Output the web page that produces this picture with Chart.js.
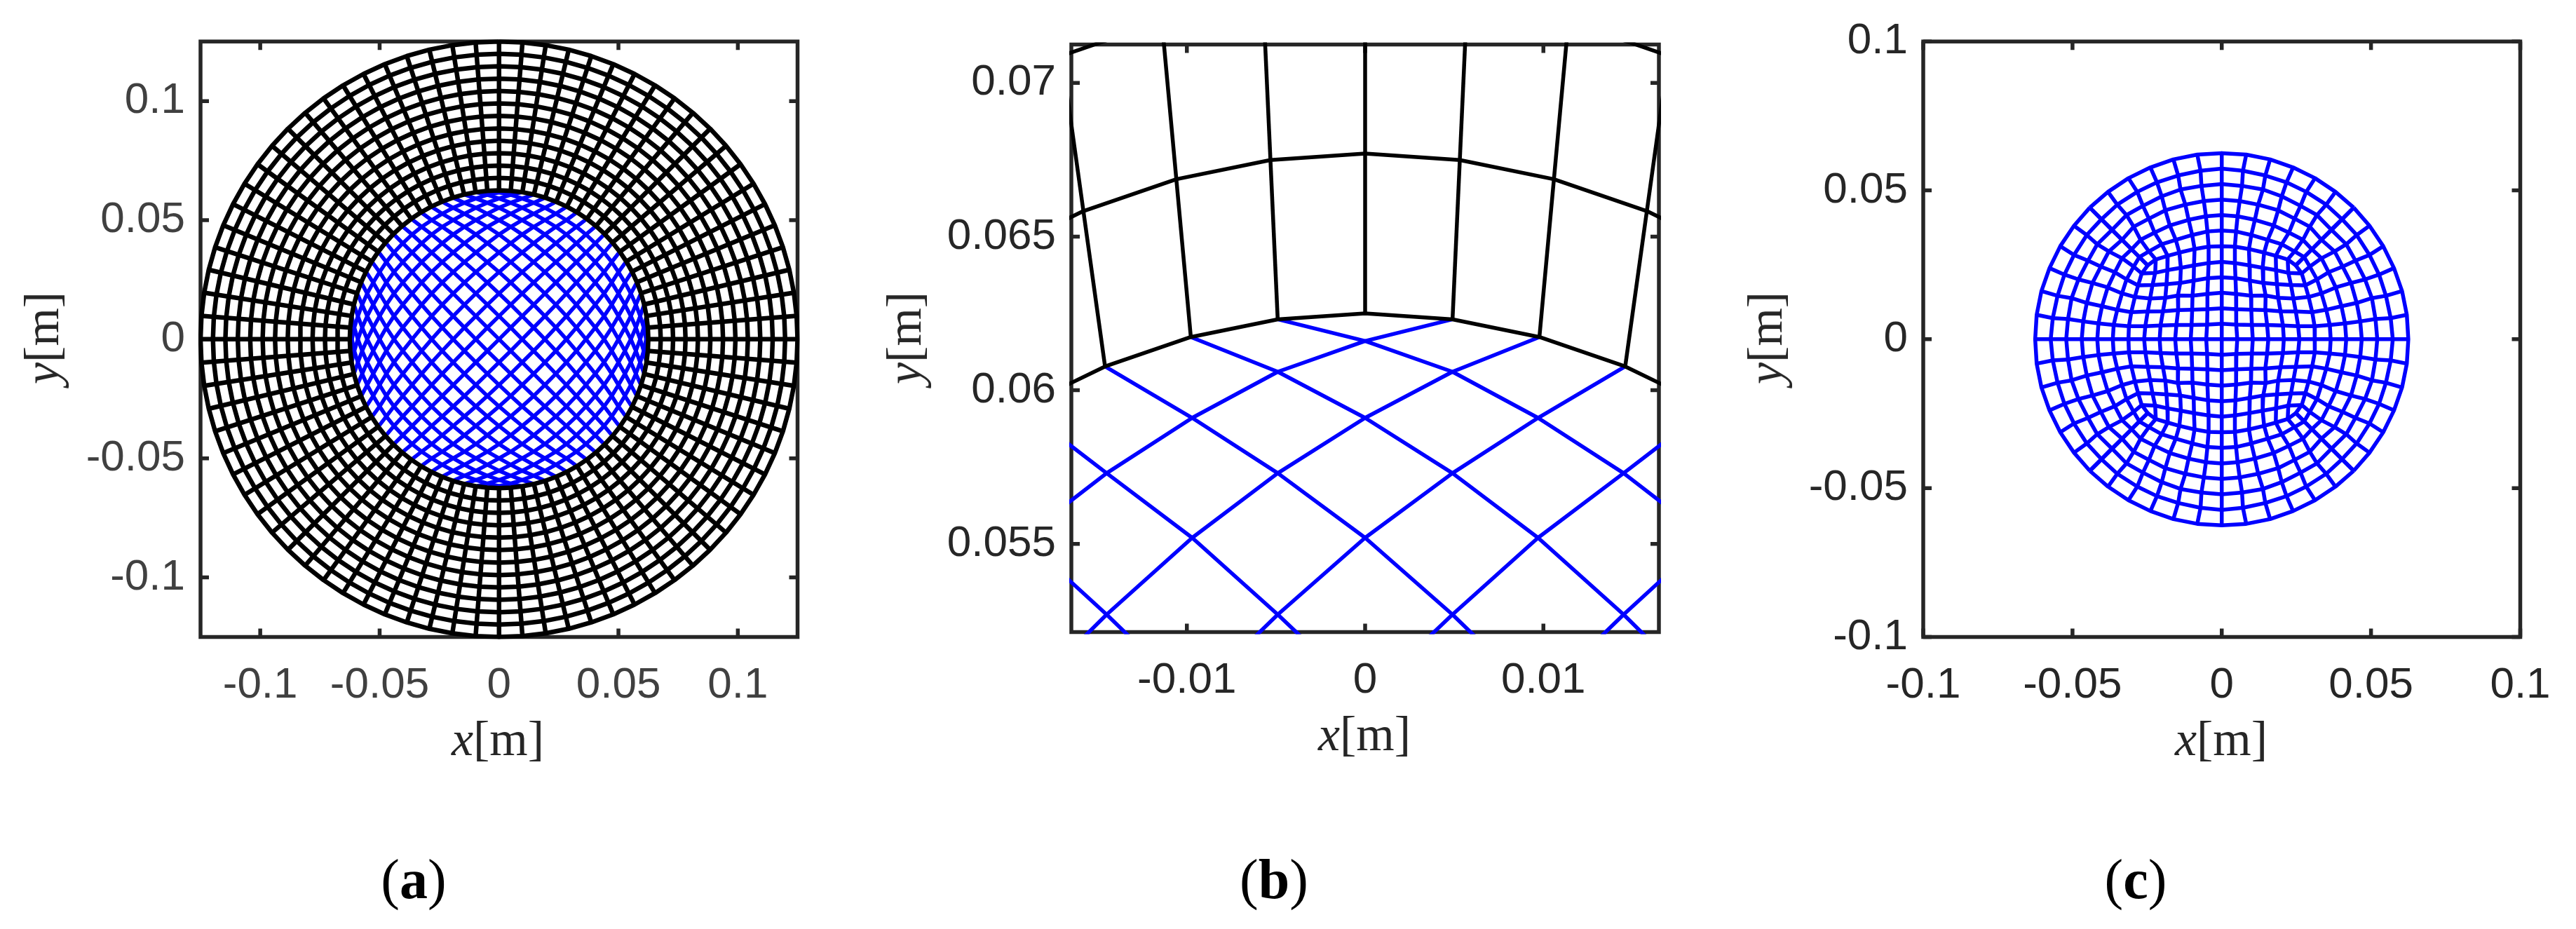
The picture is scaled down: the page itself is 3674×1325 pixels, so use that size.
<!doctype html>
<html><head><meta charset="utf-8">
<title>Mesh panels</title>
<script src="https://cdn.jsdelivr.net/npm/chart.js"></script>
<style>
  html,body{margin:0;padding:0;background:#fff;width:3674px;height:1325px;overflow:hidden}
  canvas{position:absolute;top:0}
  .axlabel{position:absolute;font:70px "Liberation Serif",serif;color:#262626;white-space:nowrap;transform:translate(-50%,-50%)}
  .axlabel.rot{transform:translate(-50%,-50%) rotate(-90deg)}
  .caption{position:absolute;font:80px "Liberation Serif",serif;color:#000;white-space:nowrap;transform:translate(-50%,-50%)}
</style>
</head><body>
<canvas id="chartA" width="1225" height="1150" style="left:0"></canvas>
<canvas id="chartB" width="1225" height="1150" style="left:1225px"></canvas>
<canvas id="chartC" width="1224" height="1150" style="left:2450px"></canvas>

<span class="axlabel" style="left:710px;top:1054px"><i>x</i>[m]</span>
<span class="axlabel rot" style="left:60px;top:482px"><i>y</i>[m]</span>
<span class="axlabel" style="left:1946px;top:1047px"><i>x</i>[m]</span>
<span class="axlabel rot" style="left:1290px;top:482px"><i>y</i>[m]</span>
<span class="axlabel" style="left:3168px;top:1054px"><i>x</i>[m]</span>
<span class="axlabel rot" style="left:2518px;top:482px"><i>y</i>[m]</span>
<span class="caption" style="left:590px;top:1254px">(<b>a</b>)</span>
<span class="caption" style="left:1817px;top:1254px">(<b>b</b>)</span>
<span class="caption" style="left:3046px;top:1254px">(<b>c</b>)</span>

<script>
// tick positions and labels
const ticksA = [-0.1, -0.05, 0, 0.05, 0.1];
const labelsA = ['-0.1', '-0.05', '0', '0.05', '0.1'];
const ticksBx = [-0.01, 0, 0.01];
const labelsBx = ['-0.01', '0', '0.01'];
const ticksBy = [0.055, 0.06, 0.065, 0.07];
const labelsBy = ['0.055', '0.06', '0.065', '0.07'];

// black mesh: ring radii (mm) and spoke angles of one quadrant (deg)
const ringRadii = [62.5, 67.7, 72.9, 78.1, 83.3, 88.5, 93.8, 99.0, 104.2, 109.4, 114.6, 119.8, 125];
const spokeAngles = [0, 4.5, 9, 13.5, 18, 22.5, 27, 31.5, 36, 40.5, 45, 49.5, 54, 58.5, 63, 67.5, 72, 76.5, 81, 85.5, 90];

// blue crossing mesh: node coordinate along either axis, from centre to rim (mm)
const crossNodes = [0, 4.9, 9.7, 14.5, 19.2, 23.8, 28.2, 32.4, 36.4, 40.3, 44.0, 47.2, 50.0, 52.7, 55.2, 57.3, 59.1, 60.6, 61.6, 62.3, 62.5];

// panel c: x of the inner block nodes in one quadrant, rows from the axis up (mm)
const blockX = [
  [0, 5.2, 10.4, 15.6, 20.8, 26.0, 31.25],
  [0, 4.9, 10.1, 15.2, 20.5, 25.6, 31.1],
  [0, 4.8, 9.9, 14.6, 19.7, 24.8, 30.3],
  [0, 4.8, 9.8, 14.7, 18.9, 24.0, 29.1],
  [0, 4.6, 9.4, 13.9, 18.5, 23.2, 28.0],
  [0, 4.4, 9.3, 13.7, 18.2, 22.3, 26.8],
  [0, 4.4, 9.1, 14.2, 18.1, 22.1, 24.8]
];
// panel c: nodes of the rings outside the block, top sector, vertical axis to diagonal (mm)
const sectorX = [
  [0, 4.8, 9.9, 15.4, 20.1, 24.4, 27.6],
  [0, 5.3, 11.1, 17.4, 22.5, 27.2, 30.2],
  [0, 6.0, 12.2, 18.9, 24.4, 29.5, 33.4],
  [0, 6.8, 13.8, 20.1, 26.4, 31.9, 36.7],
  [0, 7.1, 14.6, 21.7, 28.3, 35.0, 40.3],
  [0, 8.2, 16.2, 23.9, 31.25, 38.1, 44.2]
];
const sectorY = [
  [36.5, 36.2, 35.0, 33.4, 31.9, 29.5, 27.6],
  [41.7, 41.3, 40.1, 38.2, 35.8, 33.4, 30.2],
  [46.9, 46.4, 45.2, 43.3, 40.5, 37.8, 33.4],
  [52.1, 51.5, 50.3, 48.0, 44.8, 41.7, 36.8],
  [57.3, 56.6, 55.0, 52.7, 49.5, 45.2, 40.3],
  [62.5, 62.0, 60.4, 57.7, 54.1, 49.5, 44.2]
];

const BLACK = '#000000', BLUE = '#0000ff', FRAME = '#262626';

function polar(r, deg) {
  const t = deg * Math.PI / 180;
  return { x: r * Math.sin(t) / 1000, y: r * Math.cos(t) / 1000 };
}

function blackLines() {
  const lines = [];
  const angles = [];
  for (let q = 0; q < 4; q++) spokeAngles.slice(0, 20).forEach(a => angles.push(a + 90 * q));
  ringRadii.forEach(r => {
    const pts = angles.map(a => polar(r, a));
    pts.push(pts[0]);
    lines.push(pts);
  });
  angles.forEach(a => lines.push([polar(ringRadii[0], a), polar(ringRadii[ringRadii.length - 1], a)]));
  return lines;
}

// a blue node; the ones at the rim sit on the nodes of the innermost black ring
function crossNode(a, b) {
  const ia = Math.abs(a), ib = Math.abs(b);
  if (ia + ib === 20) {
    const p = polar(ringRadii[0], spokeAngles[ia]);
    return { x: (a < 0 ? -1 : 1) * p.x, y: (b < 0 ? -1 : 1) * p.y };
  }
  return { x: Math.sign(a) * crossNodes[ia] / 1000, y: Math.sign(b) * crossNodes[ib] / 1000 };
}

// the two crossing families, rim to rim; the rim itself is left to the black ring
function blueCrossLines() {
  const lines = [];
  for (let c = -18; c <= 18; c += 2) {
    const one = [], two = [];
    for (let d = -20; d <= 20; d += 2) {
      const a = (c + d) / 2, b = (c - d) / 2;
      one.push(crossNode(a, b));
      two.push(crossNode(a, -b));
    }
    lines.push(one, two);
  }
  return lines;
}

function blockNode(i, j) {
  const ai = Math.abs(i), aj = Math.abs(j);
  return { x: Math.sign(i) * blockX[aj][ai] / 1000, y: Math.sign(j) * blockX[ai][aj] / 1000 };
}

function sectorNode(k, i, sy) {
  return { x: Math.sign(i) * sectorX[k][Math.abs(i)] / 1000, y: sy * sectorY[k][Math.abs(i)] / 1000 };
}

function columnLine(i) {
  const pts = [];
  for (let k = 5; k >= 0; k--) pts.push(sectorNode(k, i, 1));
  for (let j = 6; j >= -6; j--) pts.push(blockNode(i, j));
  for (let k = 0; k <= 5; k++) pts.push(sectorNode(k, i, -1));
  return pts;
}

function swapLine(pts) {
  return pts.map(p => ({ x: p.y, y: p.x }));
}

function blueBlockLines() {
  const lines = [];
  for (let i = -6; i <= 6; i++) {
    const col = columnLine(i);
    lines.push(col, swapLine(col));
  }
  for (let k = 0; k < 6; k++) {
    [1, -1].forEach(sy => {
      const arc = [];
      for (let i = -6; i <= 6; i++) arc.push(sectorNode(k, i, sy));
      lines.push(arc, swapLine(arc));
    });
  }
  return lines;
}

function lineSets(lines, color, width, order) {
  return lines.map(pts => ({
    data: pts, showLine: true, pointRadius: 0, tension: 0,
    borderColor: color, borderWidth: width, order: order, clip: 3,
    borderJoinStyle: 'round', borderCapStyle: 'butt'
  }));
}

// MATLAB style box with inward ticks on all four sides
const boxPlugin = {
  id: 'box',
  beforeDatasetsDraw(chart) {
    const { ctx, chartArea: a, scales } = chart;
    const len = 12;
    ctx.save();
    ctx.strokeStyle = FRAME;
    ctx.lineWidth = 5.5;
    ctx.strokeRect(a.left, a.top, a.right - a.left, a.bottom - a.top);
    ctx.beginPath();
    scales.x.ticks.forEach(t => {
      const px = scales.x.getPixelForValue(t.value);
      ctx.moveTo(px, a.bottom); ctx.lineTo(px, a.bottom - len);
      ctx.moveTo(px, a.top); ctx.lineTo(px, a.top + len);
    });
    scales.y.ticks.forEach(t => {
      const py = scales.y.getPixelForValue(t.value);
      ctx.moveTo(a.left, py); ctx.lineTo(a.left + len, py);
      ctx.moveTo(a.right, py); ctx.lineTo(a.right - len, py);
    });
    ctx.stroke();
    ctx.restore();
  }
};

function makeAxis(min, max, ticks, labels, color, pad, fit) {
  return {
    type: 'linear', min, max,
    grid: { display: false, drawTicks: false },
    border: { display: false },
    afterBuildTicks(s) { s.ticks = ticks.map(v => ({ value: v })); },
    afterFit: fit,
    ticks: {
      autoSkip: false, maxRotation: 0, minRotation: 0, padding: pad, color,
      font: { family: '"Liberation Sans", Arial, sans-serif', size: 62 },
      callback(v, i) { return labels[i]; }
    }
  };
}

function makeChart(id, p) {
  const el = document.getElementById(id);
  new Chart(el, {
    type: 'scatter',
    data: { datasets: p.datasets },
    plugins: [boxPlugin],
    options: {
      responsive: false, animation: false, devicePixelRatio: 1,
      layout: { padding: { top: p.top, right: el.width - p.right, left: 0, bottom: 0 } },
      plugins: { legend: { display: false }, tooltip: { enabled: false } },
      scales: {
        x: makeAxis(p.xlim[0], p.xlim[1], p.xticks, p.xlabels, p.color, 32, s => { s.height = el.height - p.bottom; }),
        y: makeAxis(p.ylim[0], p.ylim[1], p.yticks, p.ylabels, p.color, 22, s => { s.width = p.left; })
      }
    }
  });
}

const black = blackLines();
const cross = blueCrossLines();

makeChart('chartA', {
  left: 286, right: 1137.5, top: 56.5, bottom: 908.5, color: '#404040',
  xlim: [-0.125, 0.125], ylim: [-0.125, 0.125],
  xticks: ticksA, xlabels: labelsA, yticks: ticksA, ylabels: labelsA,
  datasets: [...lineSets(black, BLACK, 6.5, 1), ...lineSets(cross, BLUE, 5.5, 2)]
});
makeChart('chartB', {
  left: 303, right: 1141, top: 63.5, bottom: 901.5, color: '#262626',
  xlim: [-0.01648, 0.01648], ylim: [0.05213, 0.07125],
  xticks: ticksBx, xlabels: labelsBx, yticks: ticksBy, ylabels: labelsBy,
  datasets: [...lineSets(black, BLACK, 5.5, 1), ...lineSets(cross, BLUE, 5.5, 2)]
});
makeChart('chartC', {
  left: 293, right: 1144.5, top: 56.5, bottom: 908.5, color: '#262626',
  xlim: [-0.1, 0.1], ylim: [-0.1, 0.1],
  xticks: ticksA, xlabels: labelsA, yticks: ticksA, ylabels: labelsA,
  datasets: lineSets(blueBlockLines(), BLUE, 5.5, 1)
});
</script>
</body></html>
